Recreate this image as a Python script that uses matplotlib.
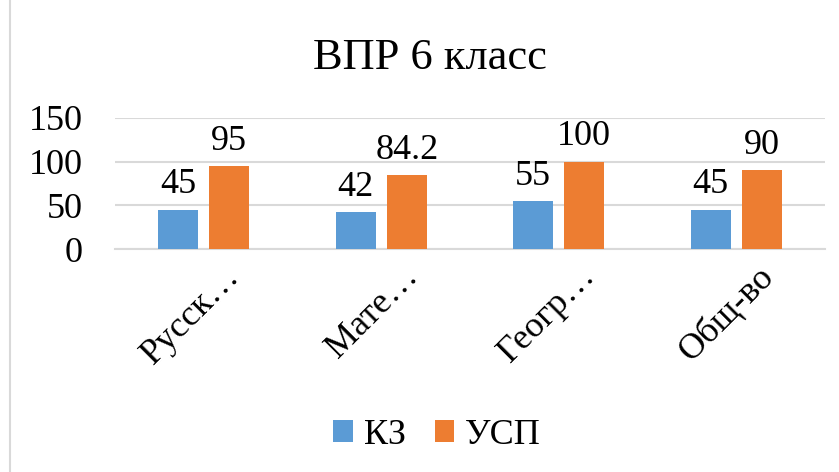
import numpy as np
import matplotlib.pyplot as plt
from matplotlib.lines import Line2D
import matplotlib.transforms as mtransforms

plt.rcParams['font.family'] = ['Liberation Serif', 'DejaVu Serif']

categories = ['Русск…', 'Мате…', 'Геогр…', 'Общ-во']
kz_values = [45, 42, 55, 45]
usp_values = [95, 84.2, 100, 90]
series_names = ['КЗ', 'УСП']
y_ticks = [0, 50, 100, 150]

blue = '#5B9BD5'
orange = '#ED7D31'
grid_color = '#D9D9D9'

fig = plt.figure(figsize=(8.39, 4.72), dpi=100)
ax = fig.add_axes([115 / 839, 1 - 249 / 472, 710 / 839, 131 / 472])

x = np.arange(len(categories))
bar_w = 0.226
gap = 0.062
off = (bar_w + gap) / 2

b1 = ax.bar(x - off, kz_values, bar_w, color=blue, label=series_names[0], zorder=3)
b2 = ax.bar(x + off, usp_values, bar_w, color=orange, label=series_names[1], zorder=3)

for bars, vals in ((b1, kz_values), (b2, usp_values)):
    for rect, v in zip(bars, vals):
        ax.annotate(f'{v:g}', (rect.get_x() + rect.get_width() / 2, v),
                    xytext=(0, 6), textcoords='offset points',
                    ha='center', va='bottom', fontsize=26)

ax.set_xlim(-0.5, len(categories) - 0.5)
ax.set_ylim(0, 150)
ax.set_yticks(y_ticks)
ax.yaxis.grid(True, color=grid_color, linewidth=1.5, zorder=0)
ax.tick_params(axis='y', length=0, labelsize=26, pad=23)
ax.tick_params(axis='x', length=0, labelsize=26)
for s in ['top', 'right', 'left']:
    ax.spines[s].set_visible(False)
ax.spines['bottom'].set_color(grid_color)
ax.spines['bottom'].set_linewidth(1.5)

ax.set_xticks(x)
ax.set_xticklabels(categories, rotation=45, ha='right', rotation_mode='anchor')
shift = mtransforms.ScaledTranslation(20 / 100, -6 / 100, fig.dpi_scale_trans)
for lbl in ax.get_xticklabels():
    lbl.set_transform(lbl.get_transform() + shift)

fig.text(430 / 839, 1 - 58 / 472, 'ВПР 6 класс', ha='center', va='center', fontsize=32)

fig.legend(handles=[b1, b2], labels=series_names, loc='center',
           bbox_to_anchor=(437 / 839, 1 - 435 / 472), ncol=2, frameon=False,
           fontsize=26, handlelength=0.55, handleheight=0.55, handletextpad=0.3,
           columnspacing=0.8)

fig.add_artist(Line2D([9.5 / 839, 9.5 / 839], [0, 1], transform=fig.transFigure,
                      color=grid_color, linewidth=1.5))

fig.savefig('out.png', dpi=100)
